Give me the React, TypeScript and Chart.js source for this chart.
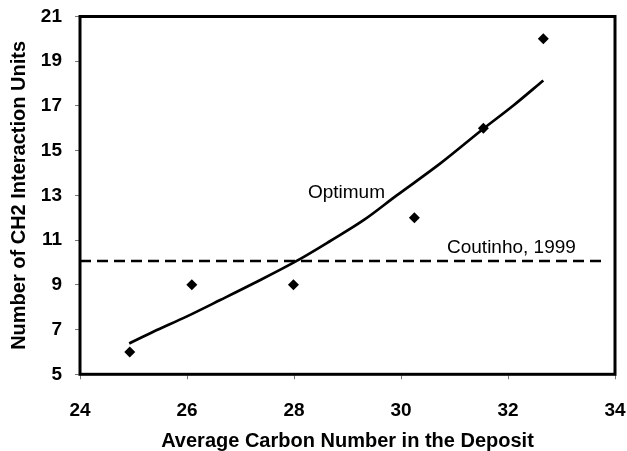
import React, { useEffect, useRef } from "react";
import { Chart, registerables } from "chart.js";

Chart.register(...registerables);

// Measured deposit samples
const sampleCarbon = [24.93, 26.09, 27.99, 30.25, 31.54, 32.66];
const sampleUnits = [6, 9, 9, 12, 16, 20];

// Optimum curve
const optimumCarbon = [24.92, 25.37, 25.99, 26.62, 27.24, 28.05, 28.67, 29.3, 29.92, 30.73, 31.54, 32.1, 32.66];
const optimumUnits = [6.38, 6.9, 7.58, 8.32, 9.06, 10.07, 10.95, 11.89, 13.0, 14.42, 15.98, 17.02, 18.14];

// Coutinho, 1999 reference level
const coutinhoCarbon = [24, 33.8];
const coutinhoUnits = [10.07, 10.07];

const xTicks = [24, 26, 28, 30, 32, 34];
const yTicks = [5, 7, 9, 11, 13, 15, 17, 19, 21];

const annotations = [
  { text: "Optimum", x: 28.26, y: 13.14 },
  { text: "Coutinho, 1999", x: 30.86, y: 10.68 },
];

const FONT = "Arial, 'Liberation Sans', Helvetica, sans-serif";

const zip = (xs: number[], ys: number[]) => xs.map((x, i) => ({ x, y: ys[i] }));

const framePlugin = {
  id: "frame",
  afterDatasetsDraw(chart: any) {
    const { ctx, chartArea } = chart;
    ctx.save();
    ctx.strokeStyle = "#000";
    ctx.lineWidth = 3;
    ctx.strokeRect(chartArea.left, chartArea.top, chartArea.right - chartArea.left, chartArea.bottom - chartArea.top);
    ctx.restore();
  },
};

const labelPlugin = {
  id: "curveLabels",
  afterDatasetsDraw(chart: any) {
    const { ctx, scales } = chart;
    ctx.save();
    ctx.fillStyle = "#000";
    ctx.font = `19px ${FONT}`;
    ctx.textAlign = "left";
    ctx.textBaseline = "middle";
    annotations.forEach((a) => {
      ctx.fillText(a.text, scales.x.getPixelForValue(a.x), scales.y.getPixelForValue(a.y));
    });
    ctx.restore();
  },
};

export default function App() {
  const canvasRef = useRef<HTMLCanvasElement>(null);

  useEffect(() => {
    if (!canvasRef.current) return;
    const chart = new Chart(canvasRef.current, {
      type: "scatter",
      data: {
        datasets: [
          {
            data: zip(coutinhoCarbon, coutinhoUnits),
            showLine: true,
            borderColor: "#000",
            borderWidth: 2.5,
            borderDash: [11, 6],
            pointRadius: 0,
          },
          {
            data: zip(optimumCarbon, optimumUnits),
            showLine: true,
            borderColor: "#000",
            borderWidth: 2.7,
            cubicInterpolationMode: "monotone",
            pointRadius: 0,
          },
          {
            data: zip(sampleCarbon, sampleUnits),
            showLine: false,
            pointStyle: "rectRot",
            pointRadius: 5.5,
            backgroundColor: "#000",
            borderColor: "#000",
            borderWidth: 0,
          },
        ],
      },
      options: {
        animation: false,
        responsive: false,
        events: [],
        layout: { padding: { left: 0, top: 16.5, right: 12, bottom: 0 } },
        plugins: { legend: { display: false }, tooltip: { enabled: false } },
        scales: {
          x: {
            type: "linear",
            min: 24,
            max: 34,
            afterBuildTicks: (s: any) => {
              s.ticks = xTicks.map((v) => ({ value: v }));
            },
            afterFit: (s: any) => {
              s.height = 76.7;
              s.paddingLeft = 0;
              s.paddingRight = 0;
            },
            grid: { drawOnChartArea: false, drawTicks: true, tickLength: 5, color: "#777", lineWidth: 1 },
            border: { display: false },
            ticks: { color: "#000", padding: 20, font: { family: FONT, size: 19, weight: "bold" } },
            title: {
              display: true,
              text: "Average Carbon Number in the Deposit",
              color: "#000",
              padding: { top: 0, bottom: 0 },
              font: { family: FONT, size: 20, weight: "bold", lineHeight: 1 },
            },
          },
          y: {
            type: "linear",
            min: 5,
            max: 21,
            afterBuildTicks: (s: any) => {
              s.ticks = yTicks.map((v) => ({ value: v }));
            },
            afterFit: (s: any) => {
              s.width = 80;
              s.paddingTop = 0;
              s.paddingBottom = 0;
            },
            grid: { drawOnChartArea: false, drawTicks: true, tickLength: 5, color: "#777", lineWidth: 1 },
            border: { display: false },
            ticks: { color: "#000", padding: 13, font: { family: FONT, size: 19, weight: "bold" } },
            title: {
              display: true,
              text: "Number of CH2 Interaction Units",
              color: "#000",
              padding: { top: 9, bottom: 0 },
              font: { family: FONT, size: 20, weight: "bold", lineHeight: 1 },
            },
          },
        },
      },
      plugins: [framePlugin, labelPlugin],
    });
    return () => chart.destroy();
  }, []);

  return (
    <div style={{ position: "absolute", left: 0, top: 0, width: 627, height: 451, background: "#fff" }}>
      <canvas ref={canvasRef} width={627} height={451} style={{ display: "block" }} />
    </div>
  );
}
